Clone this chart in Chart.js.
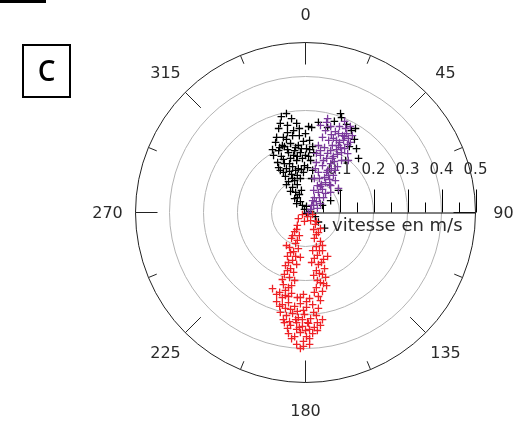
<!DOCTYPE html>
<html>
<meta charset="UTF-8">
<head>
    <title>Vitesse - panneau C</title>
    <script src="https://cdn.jsdelivr.net/npm/chart.js"></script>
    <style>
        body { margin: 0; background: #fff; }
        #wrap { position: relative; width: 529px; height: 425px; }
        #topbar { position: absolute; left: 0; top: 0; width: 46px; height: 3px; background: #000; }
        #panel { position: absolute; left: 22px; top: 44px; width: 45px; height: 50px; border: 2px solid #000;
                 font: 600 28px "Open Sans", sans-serif; text-align: center; line-height: 49px; }
        canvas { position: absolute; left: 0; top: 0; }
    </style>
</head>
<body>
<div id="wrap">
    <canvas id="chart" width="529" height="425"></canvas>
    <div id="topbar"></div>
    <div id="panel">C</div>
</div>

<script>
    // composantes de la vitesse (m/s) : est / nord
    const blackE = [-.071,-.056,-.041,-.026,-.079,-.053,-.018,-.088,-.065,-.038,0,.018,.038,.065,.085,.106,.121,.135,.144,.150,.129,.156,
        -.079,-.062,-.044,-.021,-.006,.012,-.071,-.05,-.032,-.015,.003,.021,-.082,-.062,-.044,-.026,-.009,.009,-.074,-.056,-.038,-.021,-.003,
        -.059,-.041,-.024,-.006,-.05,-.032,-.015,-.068,-.035,-.018,-.053,-.094,.015,.024,
        -.038,-.029,-.024,-.015,-.009,-.003,-.018,-.032,.003,.015,
        .118,.097,.074,.05,.038,.056,.029,
        -.085,-.076,-.053,-.029,-.012,-.065,-.047,-.024,0,-.079,-.029,-.012,.006,-.065,-.047,-.038,-.056,-.024,-.044,-.012,
        -.026,.003,-.074,-.035,.009,-.097,.012,.021,.147,.103,.018,-.056];
    const blackN = [.282,.291,.276,.262,.247,.256,.247,.206,.221,.226,.232,.25,.265,.25,.268,.279,.259,.241,.215,.188,.194,.159,
        .182,.194,.203,.197,.209,.212,.165,.176,.182,.176,.188,.194,.147,.144,.159,.153,.159,.165,.124,.129,.135,.129,.138,
        .106,.112,.109,.118,.091,.094,.1,.197,.168,.226,.235,.168,.153,.176,
        .074,.059,.044,.032,.021,.009,.053,.041,-.003,.003,
        .153,.065,.035,.021,-.028,-.046,-.012,
        .221,.191,.185,.191,.188,.156,.144,.165,.168,.132,.124,.126,.132,.118,.121,.1,.082,.082,.062,.065,
        .026,.018,.262,.241,.253,.185,.185,.124,.247,.291,.1,.215];

    const purpleE = [.015,.024,.032,.021,.041,.038,.05,.047,.059,.056,.068,.065,.076,.074,.085,.082,.094,.091,.103,.1,.112,.109,.121,.118,.126,.115,
        .059,.074,.088,.05,.068,.082,.038,.056,.074,.044,.062,.032,.05,.038,.026,.035,.024,.029,
        .1,.115,.132,.132,.124,.106,.094,.082,.071,.059,.044,.009,.065,.091,.079,
        .018,.026,.035,.044,.053,.062,.071,.079,.088,.097,.106,.115,.124,.097,.076,.044,.062,.138,.044,.065,.032,.053,.041,.074,
        .074,.088,.126,.097];
    const purpleN = [.009,.021,.032,.035,.044,.059,.068,.082,.088,.103,.109,.124,.129,.144,.15,.165,.171,.185,.191,.206,.212,.226,.232,.247,.218,.188,
        .241,.253,.238,.221,.212,.218,.197,.191,.182,.168,.159,.147,.138,.118,.1,.079,.065,.129,
        .253,.268,.253,.206,.173,.153,.135,.109,.082,.056,.026,0,.276,.212,.197,
        .021,.044,.012,.076,.044,.118,.097,.159,.124,.197,.176,.224,.2,.232,.229,.256,.265,.226,.182,.174,.174,.153,.1,.059,
        .079,.094,.153,.071];

    const redE = [-.009,.006,.021,-.021,-.003,.015,.029,
        -.024,-.032,-.018,-.041,-.029,-.047,-.035,-.053,-.038,-.059,-.044,-.026,-.062,-.047,-.032,-.065,-.05,-.021,-.015,-.056,
        .024,.038,.026,.044,.032,.05,.035,.053,.038,.056,.041,.059,.044,.032,.05,.038,.021,.018,.065,.062,.024,
        -.076,-.059,-.041,-.024,-.006,.012,-.085,-.068,-.05,-.032,-.015,.003,.021,.038,-.074,-.056,-.038,-.021,-.003,.015,.032,.05,
        -.062,-.044,-.026,-.009,.009,.026,.044,-.05,-.032,-.015,.003,.021,-.026,-.006,.012,-.015,-.097,-.044,-.009,.012,-.026,
        -.026,-.038,-.024,-.044,-.029,-.05,-.035,-.053,-.068,-.041,-.059,
        .032,.044,.032,.05,.041,.026,.047,.032,.05,.035,.053,.026,.044,
        -.085,-.068,-.05,-.015,.003,-.076,-.059,-.024,-.006,.024,-.065,-.047,-.029,.006,.035,-.053,-.018,0,.035,-.041,.012,-.006];
    const redN = [-.006,-.012,-.006,-.018,-.026,-.024,-.035,
        -.038,-.056,-.068,-.076,-.091,-.103,-.115,-.129,-.141,-.156,-.165,-.153,-.182,-.191,-.2,-.212,-.221,-.106,-.132,-.097,
        -.05,-.059,-.076,-.085,-.1,-.112,-.126,-.138,-.153,-.165,-.179,-.191,-.206,-.221,-.232,-.247,-.112,-.147,-.129,-.215,-.185,
        -.235,-.244,-.238,-.25,-.241,-.253,-.262,-.271,-.265,-.276,-.268,-.279,-.271,-.282,-.294,-.303,-.297,-.309,-.3,-.312,-.303,-.315,
        -.324,-.332,-.324,-.335,-.326,-.338,-.332,-.356,-.365,-.353,-.365,-.356,-.388,-.379,-.388,-.4,-.224,-.285,-.315,-.344,-.344,
        -.05,-.068,-.082,-.118,-.129,-.147,-.176,-.171,-.197,-.215,-.229,
        -.026,-.047,-.065,-.097,-.112,-.135,-.147,-.171,-.182,-.2,-.209,-.235,-.259,
        -.241,-.25,-.247,-.25,-.262,-.276,-.282,-.291,-.288,-.294,-.315,-.321,-.315,-.324,-.324,-.341,-.338,-.347,-.347,-.371,-.371,-.394];

    // axes
    const speedRings = [0.1, 0.2, 0.3, 0.4];
    const speedMax = 0.5;
    const speedTicks = ['0.1', '0.2', '0.3', '0.4', '0.5'];
    const angleLabels = ['0', '45', '90', '135', '180', '225', '270', '315'];

    function toPoints(e, n) {
        return e.map((v, i) => ({x: v, y: n[i]}));
    }

    // grille polaire dessinée avec les échelles du graphique
    const polarGrid = {
        id: 'polarGrid',
        beforeDatasetsDraw(chart) {
            const {ctx, scales: {x, y}} = chart;
            const cx = x.getPixelForValue(0);
            const cy = y.getPixelForValue(0);
            const unit = x.getPixelForValue(1) - cx;
            const R = speedMax * unit;
            ctx.save();

            ctx.strokeStyle = '#b4b4b4';
            ctx.lineWidth = 1;
            speedRings.forEach(s => {
                ctx.beginPath();
                ctx.arc(cx, cy, s * unit, 0, 2 * Math.PI);
                ctx.stroke();
            });

            ctx.strokeStyle = '#222';
            ctx.beginPath();
            ctx.arc(cx, cy, R, 0, 2 * Math.PI);
            ctx.stroke();

            // graduations de direction (vers l'intérieur)
            for (let k = 0; k < 16; k++) {
                const a = k * 22.5 * Math.PI / 180;
                const len = k % 2 === 0 ? 22 : 9;
                const sx = Math.sin(a), sy = -Math.cos(a);
                ctx.beginPath();
                ctx.moveTo(cx + sx * R, cy + sy * R);
                ctx.lineTo(cx + sx * (R - len), cy + sy * (R - len));
                ctx.stroke();
            }

            ctx.fillStyle = '#2a2a2a';
            ctx.font = '16px "DejaVu Sans"';
            ctx.textAlign = 'center';
            ctx.textBaseline = 'middle';
            angleLabels.forEach((lab, k) => {
                const a = k * 45 * Math.PI / 180;
                ctx.fillText(lab, cx + Math.sin(a) * (R + 28), cy - Math.cos(a) * (R + 28) + 1);
            });

            // axe des vitesses
            ctx.strokeStyle = '#000';
            ctx.beginPath();
            ctx.moveTo(cx, cy + 0.5);
            ctx.lineTo(cx + R, cy + 0.5);
            ctx.stroke();
            for (let s = 0.05; s <= speedMax + 0.001; s += 0.05) {
                const px = Math.round(cx + s * unit) + 0.5;
                const major = Math.round(s * 100) % 10 === 0;
                ctx.beginPath();
                ctx.moveTo(px, cy);
                ctx.lineTo(px, cy - (major ? 23 : 10));
                ctx.stroke();
            }
            ctx.font = '15px "DejaVu Sans"';
            speedTicks.forEach((lab, i) => {
                ctx.fillText(lab, cx + (i + 1) * 0.1 * unit, cy - 42);
            });
            ctx.font = '18px "DejaVu Sans"';
            ctx.fillText('vitesse en m/s', cx + 0.27 * unit, cy + 14);
            ctx.restore();
        }
    };

    const cross = (data, color, order) => ({
        data: data,
        pointStyle: 'cross',
        pointRadius: 3.8,
        pointBorderWidth: 1.3,
        borderColor: color,
        backgroundColor: color,
        order: order
    });

    const ctx = document.getElementById('chart').getContext('2d');
    new Chart(ctx, {
        type: 'scatter',
        data: {
            datasets: [
                cross(toPoints(blackE, blackN), '#000000', 3),
                cross(toPoints(purpleE, purpleN), '#7b3b9c', 2),
                cross(toPoints(redE, redN), '#ee2226', 1)
            ]
        },
        options: {
            responsive: false,
            animation: false,
            devicePixelRatio: 1,
            layout: {padding: {left: 135.5, right: 53.5, top: 42.5, bottom: 42.5}},
            plugins: {legend: {display: false}, tooltip: {enabled: false}},
            scales: {
                x: {display: false, min: -speedMax, max: speedMax},
                y: {display: false, min: -speedMax, max: speedMax}
            }
        },
        plugins: [polarGrid]
    });
</script>
</body>
</html>
